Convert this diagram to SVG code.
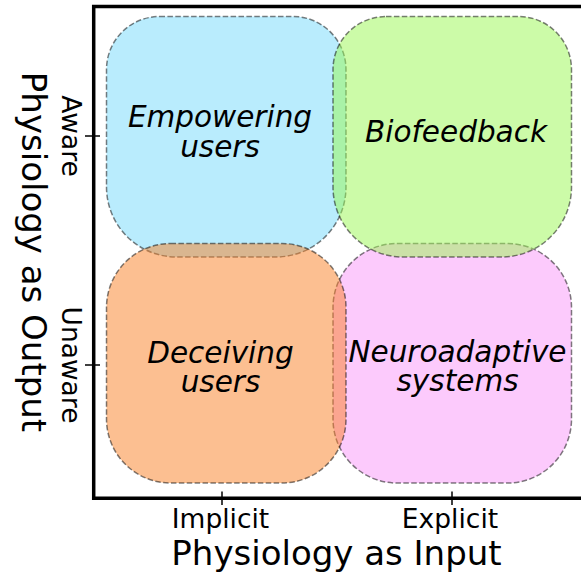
<svg xmlns="http://www.w3.org/2000/svg" width="581" height="576" viewBox="0 0 581 576">
<style>
.box{stroke:#000;stroke-opacity:0.5;stroke-width:1.5;stroke-dasharray:5.5 2.4;fill-opacity:0.5}
.q{font-family:"DejaVu Sans",sans-serif;font-style:italic;font-size:29.5px;fill:#000;text-anchor:middle}
.tick{font-family:"DejaVu Sans",sans-serif;font-size:26.5px;fill:#000;text-anchor:middle}
.lab{font-family:"DejaVu Sans",sans-serif;font-size:34px;fill:#000;text-anchor:middle}
.spine{stroke:#000;stroke-width:3.5;fill:none;stroke-linecap:square}
.tk{stroke:#000;stroke-width:1.5}
</style>
<rect width="581" height="576" fill="#fff"/>
<g id="empowering">
<path class="box" fill="#73d9fb" d="M159.5,16.5 H293 A53,53 0 0 1 346,69.5 V187 A70,70 0 0 1 276,257 H176.5 A70,70 0 0 1 106.5,187 V69.5 A53,53 0 0 1 159.5,16.5 Z"/>
<text class="q" x="220" y="127"><tspan x="220">Empowering</tspan><tspan x="220" dy="30">users</tspan></text>
</g>
<g id="neuroadaptive">
<rect class="box" fill="#f995f9" x="333" y="243.5" width="238.5" height="239.5" rx="64"/>
</g>
<g id="biofeedback">
<path class="box" fill="#99f751" d="M386,16.5 H518.5 A53,53 0 0 1 571.5,69.5 V187 A70,70 0 0 1 501.5,257 H403 A70,70 0 0 1 333,187 V69.5 A53,53 0 0 1 386,16.5 Z"/>
<text class="q" x="456" y="142">Biofeedback</text>
</g>
<g id="deceiving">
<rect class="box" fill="#f97f23" x="106.5" y="243.5" width="239.5" height="239.5" rx="64"/>
<text class="q" x="220.5" y="363"><tspan x="220.5">Deceiving</tspan><tspan x="220.5" dy="29">users</tspan></text>
</g>
<g id="neuroadaptive-label">
<text class="q" x="457.5" y="362"><tspan x="457.5">Neuroadaptive</tspan><tspan x="457.5" dy="29">systems</tspan></text>
</g>
<g id="axes">
<path class="spine" d="M600,6.5 H93.7 V498.3 H600"/>
<line class="tk" x1="222" y1="491.5" x2="222" y2="505"/>
<line class="tk" x1="452" y1="491.5" x2="452" y2="505"/>
<line class="tk" x1="85" y1="136" x2="100" y2="136"/>
<line class="tk" x1="85" y1="365" x2="100" y2="365"/>
<text class="tick" x="220.5" y="528">Implicit</text>
<text class="tick" x="450" y="528">Explicit</text>
<text class="tick" transform="translate(62,136) rotate(90)">Aware</text>
<text class="tick" transform="translate(62,365) rotate(90)">Unaware</text>
<text class="lab" x="336.5" y="565">Physiology as Input</text>
<text class="lab" transform="translate(22,252) rotate(90)">Physiology as Output</text>
</g>
</svg>
